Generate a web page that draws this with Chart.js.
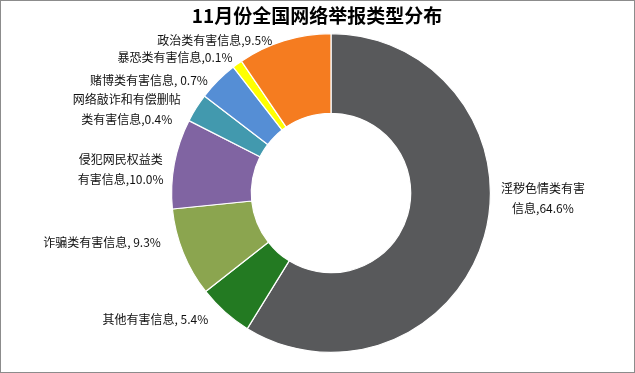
<!DOCTYPE html>
<html>
<head>
<meta charset="utf-8">
<script src="https://cdn.jsdelivr.net/npm/chart.js@4/dist/chart.umd.min.js"></script>
<style>
html,body{margin:0;padding:0;background:#fff;}
#wrap{position:relative;width:635px;height:373px;box-sizing:border-box;border:1px solid #8c8c8c;}
canvas{position:absolute;left:-1px;top:-1px;}
</style>
</head>
<body>
<div id="wrap"><canvas id="c" width="635" height="373"></canvas></div>
<script>
// ---- data ----
const titleText = '11月份全国网络举报类型分布';
const categories = ['淫秽色情类有害信息','其他有害信息','诈骗类有害信息','侵犯网民权益类有害信息','网络敲诈和有偿删帖类有害信息','赌博类有害信息','暴恐类有害信息','政治类有害信息'];
const sliceValues = [58.8, 5.6, 9.0, 9.1, 2.9, 4.1, 1.0, 9.5];
const labelLines = [
  ['淫秽色情类有害','信息,64.6%'],
  ['其他有害信息, 5.4%'],
  ['诈骗类有害信息, 9.3%'],
  ['侵犯网民权益类','有害信息,10.0%'],
  ['网络敲诈和有偿删帖','类有害信息,0.4%'],
  ['赌博类有害信息, 0.7%'],
  ['暴恐类有害信息,0.1%'],
  ['政治类有害信息,9.5%']
];

// ---- styles / layout ----
const colors = ['#58595b','#237a22','#8ba54f','#8064a2','#4299ae','#558ed5','#ffff00','#f57c20'];
const labelNudge = [[7,-41],[-10,0],[-13,-14],[-1,8],[-7,7],[-3,7],[1,1.5],[-9,9.5]];
const FONT = '"Noto Sans CJK SC","Microsoft YaHei",sans-serif';

const titlePlugin = {
  id:'titleDraw',
  afterDraw(chart){
    const ctx = chart.ctx;
    ctx.save();
    ctx.font = 'bold 19px ' + FONT;
    ctx.fillStyle = '#000';
    ctx.textAlign = 'center';
    ctx.textBaseline = 'middle';
    ctx.fillText(titleText, 317, 16);
    ctx.restore();
  }
};

const labelPlugin = {
  id:'sliceLabels',
  afterDatasetsDraw(chart){
    const ctx = chart.ctx;
    const meta = chart.getDatasetMeta(0);
    ctx.save();
    ctx.font = '12px ' + FONT;
    ctx.fillStyle = '#111';
    ctx.textBaseline = 'middle';
    ctx.textAlign = 'center';
    const lh = 20;
    meta.data.forEach((arc, i) => {
      const p = arc.getProps(['x','y','startAngle','endAngle','outerRadius'], true);
      const mid = (p.startAngle + p.endAngle) / 2;
      const r = p.outerRadius + 10;
      let ax = p.x + Math.cos(mid) * r + labelNudge[i][0];
      const ay = p.y + Math.sin(mid) * r + labelNudge[i][1];
      const lines = labelLines[i];
      const w = Math.max(...lines.map(l => ctx.measureText(l).width));
      const cx = Math.cos(mid) >= 0 ? ax + w / 2 : ax - w / 2;
      const y0 = ay - (lines.length - 1) * lh / 2;
      lines.forEach((l, k) => ctx.fillText(l, cx, y0 + k * lh));
    });
    ctx.restore();
  }
};

new Chart(document.getElementById('c'), {
  type:'doughnut',
  data:{
    labels: categories,
    datasets:[{
      data: sliceValues,
      backgroundColor: colors,
      borderColor:'#ffffff',
      borderWidth:1.2,
      hoverOffset:0
    }]
  },
  options:{
    responsive:false,
    animation:false,
    cutout:'50%',
    layout:{padding:{top:33,bottom:20,left:171,right:144}},
    plugins:{legend:{display:false},tooltip:{enabled:false},title:{display:false}}
  },
  plugins:[labelPlugin, titlePlugin]
});
</script>
</body>
</html>
